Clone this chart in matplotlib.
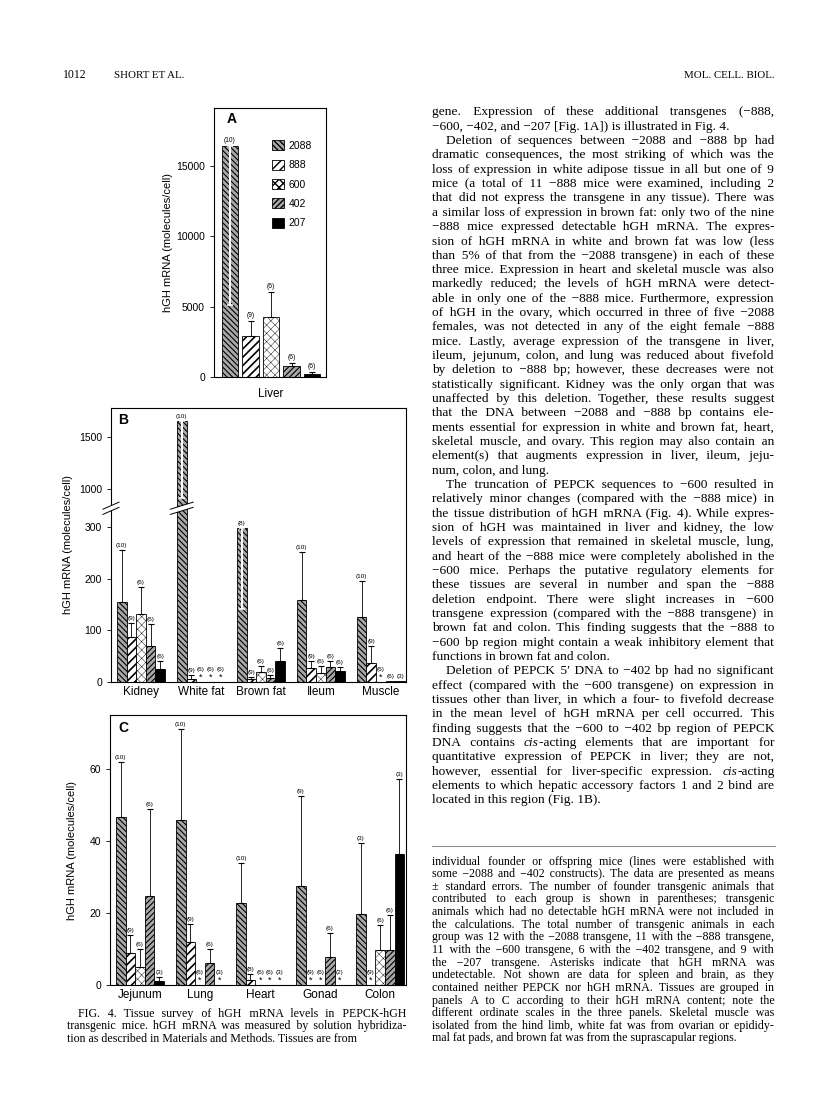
"""
Fig. 4 page - tissue survey of hGH mRNA levels in PEPCK-hGH transgenic mice.
Three bar panels (A liver, B high tissues with broken axis, C low tissues)
plus the surrounding journal text.
"""

import matplotlib
matplotlib.use("Agg")
import matplotlib.pyplot as plt
from matplotlib.patches import Patch, Polygon
import numpy as np

nan = np.nan

# ── Data ──────────────────────────────────────────────────────────────────────

constructs = ["2088", "888", "600", "402", "207"]

# panel A - liver
liver_mean = [16400, 2900, 4250, 780, 210]
liver_err = [11300, 1070, 1780, 210, 140]
liver_n = [10, 9, 6, 6, 6]
liver_down = [0]            # error bar drawn downward (white) inside the bar

# panel B
tissues_b = ["Kidney", "White fat", "Brown fat", "Ileum", "Muscle"]
b_mean = [
    [155, 87, 131, 70, 25],
    [1657, 6, nan, nan, nan],
    [298, 6, 19, 8, 41],
    [159, 27, 17, 29, 21],
    [126, 37, nan, 2, 2],
]
b_err = [
    [100, 27, 53, 42, 16],
    [740, 7, 0, 0, 0],
    [157, 4, 12, 5, 25],
    [92, 14, 14, 12, 8],
    [69, 33, 0, 0, 0],
]
b_n = [
    [10, 9, 6, 6, 6],
    [10, 9, 6, 6, 6],
    [8, 9, 6, 6, 6],
    [10, 9, 6, 6, 6],
    [10, 9, 6, 6, 3],
]
b_down = [(1, 0), (2, 0)]
b_ticks = [0, 100, 200, 300, 1000, 1500]

# panel C
tissues_c = ["Jejunum", "Lung", "Heart", "Gonad", "Colon"]
c_mean = [
    [46.7, 8.9, 5.0, 24.7, 1.0],
    [45.9, 12.0, nan, 6.0, nan],
    [22.7, 1.5, nan, nan, nan],
    [27.6, nan, nan, 7.8, nan],
    [19.7, nan, 9.7, 9.7, 36.4],
]
c_err = [
    [15.3, 5.1, 5.0, 24.3, 1.2],
    [25.1, 5.0, 0, 4.0, 0],
    [11.3, 1.5, 0, 0, 0],
    [25.0, 0, 0, 6.7, 0],
    [19.7, 0, 6.9, 9.8, 20.8],
]
c_n = [
    [10, 9, 6, 6, 3],
    [10, 9, 6, 6, 3],
    [10, 8, 6, 6, 3],
    [9, 9, 6, 6, 2],
    [3, 9, 6, 6, 3],
]
c_ticks = [0, 20, 40, 60]

# ── Text of the page ──────────────────────────────────────────────────────────

body = [
    ["gene. Expression of these additional transgenes (−888,",
     "−600, −402, and −207 [Fig. 1A]) is illustrated in Fig. 4."],
    ["Deletion of sequences between −2088 and −888 bp had",
     "dramatic consequences, the most striking of which was the",
     "loss of expression in white adipose tissue in all but one of 9",
     "mice (a total of 11 −888 mice were examined, including 2",
     "that did not express the transgene in any tissue). There was",
     "a similar loss of expression in brown fat: only two of the nine",
     "−888 mice expressed detectable hGH mRNA. The expres-",
     "sion of hGH mRNA in white and brown fat was low (less",
     "than 5% of that from the −2088 transgene) in each of these",
     "three mice. Expression in heart and skeletal muscle was also",
     "markedly reduced; the levels of hGH mRNA were detect-",
     "able in only one of the −888 mice. Furthermore, expression",
     "of hGH in the ovary, which occurred in three of five −2088",
     "females, was not detected in any of the eight female −888",
     "mice. Lastly, average expression of the transgene in liver,",
     "ileum, jejunum, colon, and lung was reduced about fivefold",
     "by deletion to −888 bp; however, these decreases were not",
     "statistically significant. Kidney was the only organ that was",
     "unaffected by this deletion. Together, these results suggest",
     "that the DNA between −2088 and −888 bp contains ele-",
     "ments essential for expression in white and brown fat, heart,",
     "skeletal muscle, and ovary. This region may also contain an",
     "element(s) that augments expression in liver, ileum, jeju-",
     "num, colon, and lung."],
    ["The truncation of PEPCK sequences to −600 resulted in",
     "relatively minor changes (compared with the −888 mice) in",
     "the tissue distribution of hGH mRNA (Fig. 4). While expres-",
     "sion of hGH was maintained in liver and kidney, the low",
     "levels of expression that remained in skeletal muscle, lung,",
     "and heart of the −888 mice were completely abolished in the",
     "−600 mice. Perhaps the putative regulatory elements for",
     "these tissues are several in number and span the −888",
     "deletion endpoint. There were slight increases in −600",
     "transgene expression (compared with the −888 transgene) in",
     "brown fat and colon. This finding suggests that the −888 to",
     "−600 bp region might contain a weak inhibitory element that",
     "functions in brown fat and colon."],
    ["Deletion of PEPCK 5′ DNA to −402 bp had no significant",
     "effect (compared with the −600 transgene) on expression in",
     "tissues other than liver, in which a four- to fivefold decrease",
     "in the mean level of hGH mRNA per cell occurred. This",
     "finding suggests that the −600 to −402 bp region of PEPCK",
     "DNA contains ~cis~-acting elements that are important for",
     "quantitative expression of PEPCK in liver; they are not,",
     "however, essential for liver-specific expression. ~cis~-acting",
     "elements to which hepatic accessory factors 1 and 2 bind are",
     "located in this region (Fig. 1B)."],
]

caption_left = [
    "FIG. 4. Tissue survey of hGH mRNA levels in PEPCK-hGH",
    "transgenic mice. hGH mRNA was measured by solution hybridiza-",
    "tion as described in Materials and Methods. Tissues are from",
]

caption_right = [
    "individual founder or offspring mice (lines were established with",
    "some −2088 and −402 constructs). The data are presented as means",
    "± standard errors. The number of founder transgenic animals that",
    "contributed to each group is shown in parentheses; transgenic",
    "animals which had no detectable hGH mRNA were not included in",
    "the calculations. The total number of transgenic animals in each",
    "group was 12 with the −2088 transgene, 11 with the −888 transgene,",
    "11 with the −600 transgene, 6 with the −402 transgene, and 9 with",
    "the −207 transgene. Asterisks indicate that hGH mRNA was",
    "undetectable. Not shown are data for spleen and brain, as they",
    "contained neither PEPCK nor hGH mRNA. Tissues are grouped in",
    "panels A to C according to their hGH mRNA content; note the",
    "different ordinate scales in the three panels. Skeletal muscle was",
    "isolated from the hind limb, white fat was from ovarian or epididy-",
    "mal fat pads, and brown fat was from the suprascapular regions.",
]

# ── Style ─────────────────────────────────────────────────────────────────────

SANS = ["Liberation Sans", "DejaVu Sans"]
SERIF = ["Liberation Serif", "DejaVu Serif"]

plt.rcParams.update({
    "font.family": SANS,
    "axes.linewidth": 0.8,
    "xtick.major.size": 0,
    "ytick.major.size": 3,
    "ytick.major.width": 0.6,
    "ytick.labelsize": 7.5,
    "xtick.labelsize": 8.5,
    "axes.labelsize": 8,
})

# hatch, face colour and hatch line width per construct
STYLES = [
    dict(hatch="\\" * 6, fc="#a8a8a8", hlw=0.8),
    dict(hatch="////", fc="white", hlw=1.2),
    dict(hatch="xxxx", fc="white", hlw=0.3),
    dict(hatch="/" * 6, fc="#a8a8a8", hlw=0.8),
    dict(hatch=None, fc="black", hlw=0.5),
]

W, H = 816, 1111
fig = plt.figure(figsize=(W / 100, H / 100), dpi=100)
fig.patch.set_facecolor("white")
renderer = fig.canvas.get_renderer()


def box(l, t, r, b):
    return [l / W, 1 - b / H, (r - l) / W, (b - t) / H]


def styled_bar(ax, x, h, w, k):
    st = STYLES[k]
    with plt.rc_context({"hatch.linewidth": st["hlw"]}):
        bars = ax.bar(x, h, w, color=st["fc"], edgecolor="black",
                      linewidth=0.6, hatch=st["hatch"], zorder=2)
    for p in bars:
        if hasattr(p, "set_hatch_linewidth"):
            p.set_hatch_linewidth(st["hlw"])
    return bars


def draw_group(ax, xc, means, errs, ns, downs, step, bw=None, nsize=4.6):
    bw = step if bw is None else bw
    offs = (np.arange(len(means)) - (len(means) - 1) / 2) * step
    for k, (m, e, n) in enumerate(zip(means, errs, ns)):
        x = xc + offs[k]
        lab = f"({n})"
        if np.isnan(m):
            ax.annotate("*", (x, 0), xytext=(0, 0.5), textcoords="offset points",
                        ha="center", va="bottom", fontsize=6.5)
            ax.annotate(lab, (x, 0), xytext=(0, 7), textcoords="offset points",
                        ha="center", va="bottom", fontsize=nsize)
            continue
        styled_bar(ax, x, m, bw, k)
        if k in downs:
            ax.errorbar(x, m, yerr=[[e], [0]], fmt="none", ecolor="white",
                        elinewidth=1.4, capsize=2.4, capthick=1.1, zorder=3)
            top = m
        else:
            if e > 0:
                ax.errorbar(x, m, yerr=[[0], [e]], fmt="none", ecolor="black",
                            elinewidth=0.6, capsize=2.2, capthick=0.8, zorder=3)
            top = m + e
        ax.annotate(lab, (x, top), xytext=(0, 1.5), textcoords="offset points",
                    ha="center", va="bottom", fontsize=nsize)


def panel_letter(ax, s, x, y):
    ax.text(x, y, s, transform=ax.transAxes, fontsize=10, fontweight="bold",
            ha="left", va="center")


# ── Panel A ───────────────────────────────────────────────────────────────────

axA = fig.add_axes(box(214, 108, 326, 377))
draw_group(axA, 2, np.array(liver_mean, float), liver_err, liver_n,
           liver_down, 1.0, bw=0.8, nsize=4.8)
axA.set_xlim(-0.78, 4.68)
axA.set_ylim(0, 19080)
axA.set_yticks([0, 5000, 10000, 15000])
axA.set_xticks([2])
axA.set_xticklabels(["Liver"])
axA.tick_params(axis="x", pad=8)
axA.set_ylabel("hGH mRNA (molecules/cell)")
axA.yaxis.set_label_coords(-0.37, 0.5)
panel_letter(axA, "A", 0.11, 0.96)

handles = []
for k, c in enumerate(constructs):
    st = STYLES[k]
    with plt.rc_context({"hatch.linewidth": st["hlw"]}):
        hp = Patch(facecolor=st["fc"], edgecolor="black", hatch=st["hatch"],
                   linewidth=0.6, label=c)
    handles.append(hp)
axA.legend(handles=handles, loc="upper left", bbox_to_anchor=(0.52, 0.88),
           frameon=False, fontsize=7.5, handlelength=1.1, handleheight=1.1,
           labelspacing=0.85, handletextpad=0.45, borderpad=0, borderaxespad=0)

# ── Panel B (broken axis via FuncScale) ───────────────────────────────────────

BRK_LO, BRK_HI, UP_SLOPE = 336, 820, 0.202


def fwd(y):
    y = np.asarray(y, float)
    return np.interp(y, [-1e4, BRK_LO, BRK_HI, 1e5],
                     [-1e4, BRK_LO, BRK_LO + 0.01, BRK_LO + (1e5 - BRK_HI) * UP_SLOPE])


def inv(v):
    v = np.asarray(v, float)
    return np.interp(v, [-1e4, BRK_LO, BRK_LO + 0.01, BRK_LO + (1e5 - BRK_HI) * UP_SLOPE],
                     [-1e4, BRK_LO, BRK_HI, 1e5])


axB = fig.add_axes(box(111, 408, 406, 682))
axB.set_yscale("function", functions=(fwd, inv))
SLOT = 0.16
b_m = np.array(b_mean, float)
for i, t in enumerate(tissues_b):
    downs = [k for (ti, k) in b_down if ti == i]
    draw_group(axB, i, b_m[i], b_err[i], b_n[i], downs, SLOT)
YMAX_B = 1780
axB.set_ylim(0, YMAX_B)
axB.set_xlim(-0.5, 4.42)
axB.set_yticks(b_ticks)
axB.set_xticks(range(len(tissues_b)))
axB.set_xticklabels(tissues_b)
axB.tick_params(axis="x", pad=3)
axB.set_ylabel("hGH mRNA (molecules/cell)")
axB.yaxis.set_label_coords(-0.13, 0.5)
panel_letter(axB, "B", 0.025, 0.955)

# break marks: on the spine and across the white-fat 2088 bar
fb = float(fwd(BRK_LO) / fwd(YMAX_B))
ph = 1 / 274.0                       # one pixel in axes-y units


def break_mark(trans, xc, dx):
    e, g = 3.5 * ph, 2.6 * ph
    poly = Polygon([(xc - dx, fb - e - g), (xc + dx, fb + e - g),
                    (xc + dx, fb + e + g), (xc - dx, fb - e + g)],
                   closed=True, facecolor="white", edgecolor="none",
                   transform=trans, clip_on=False, zorder=6)
    axB.add_patch(poly)
    for s in (-g, g):
        axB.plot([xc - dx, xc + dx], [fb - e + s, fb + e + s], color="black",
                 lw=0.7, transform=trans, clip_on=False, zorder=7)


break_mark(axB.transAxes, 0.0, 8 / 295)
break_mark(axB.get_xaxis_transform(), 1 - 2 * SLOT, 0.19)

# ── Panel C ───────────────────────────────────────────────────────────────────

axC = fig.add_axes(box(110, 715, 406, 985))
c_m = np.array(c_mean, float)
for i, t in enumerate(tissues_c):
    draw_group(axC, i, c_m[i], c_err[i], c_n[i], [], SLOT)
axC.set_ylim(0, 75)
axC.set_xlim(-0.5, 4.43)
axC.set_yticks(c_ticks)
axC.set_xticks(range(len(tissues_c)))
axC.set_xticklabels(tissues_c)
axC.tick_params(axis="x", pad=3)
axC.set_ylabel("hGH mRNA (molecules/cell)")
axC.yaxis.set_label_coords(-0.11, 0.5)
panel_letter(axC, "C", 0.027, 0.95)

# ── Page text (justified with hair spaces, one text per line segment) ────────

HAIR, THIN = "\u200a", "\u2009"
_wcache = {}


def width(s, size, italic=False):
    # trailing/leading spaces are kept by measuring between two bars
    key = (s, size, italic)
    if key not in _wcache:
        t = fig.text(0, 0, "|" + s + "|", fontsize=size, family=SERIF,
                     style="italic" if italic else "normal")
        t0 = fig.text(0, 0, "||", fontsize=size, family=SERIF,
                      style="italic" if italic else "normal")
        _wcache[key] = (t.get_window_extent(renderer).width
                        - t0.get_window_extent(renderer).width)
        t.remove()
        t0.remove()
    return _wcache[key]


def line_width(s, size):
    return sum(width(seg, size, j % 2 == 1)
               for j, seg in enumerate(s.split("~")) if seg)


def join(words, seps):
    return words[0] + "".join(sp + w for sp, w in zip(seps, words[1:]))


def text_line(s, x0, x1, y, size, justify=True):
    words = s.split()
    gaps = len(words) - 1
    seps = [" "] * gaps
    if justify and gaps > 0:
        hw = (width(HAIR * 40, size)) / 40
        extra = x1 - x0 - line_width(join(words, seps), size)
        if extra < 0:
            seps = [THIN] * gaps
            extra = x1 - x0 - line_width(join(words, seps), size)
        n = max(int(round(extra / hw)), 0)
        base, rem = divmod(n, gaps)
        picks = set(np.linspace(0, gaps - 1, rem).round().astype(int)) if rem else set()
        seps = [sp + HAIR * (base + (1 if i in picks else 0))
                for i, sp in enumerate(seps)]
    full = join(words, seps)
    x = x0
    for j, seg in enumerate(full.split("~")):
        if not seg:
            continue
        it = j % 2 == 1
        fig.text(x / W, 1 - y / H, seg, fontsize=size, family=SERIF,
                 style="italic" if it else "normal", ha="left", va="baseline")
        x += width(seg, size, it)


# running head
fig.text(63 / W, 1 - 78 / H, "1012", family=SERIF, fontsize=8.5, va="baseline")
fig.text(114 / W, 1 - 78 / H, "SHORT ET AL.", family=SERIF, fontsize=7.8, va="baseline")
fig.text(775 / W, 1 - 78 / H, "MOL. CELL. BIOL.", family=SERIF, fontsize=7.8,
         va="baseline", ha="right")

# right column body
COL_L, COL_R, INDENT = 432, 774, 14
y = 115.5
for pi, para in enumerate(body):
    for li, line in enumerate(para):
        x0 = COL_L + (INDENT if (li == 0 and pi > 0) else 0)
        text_line(line, x0, COL_R, y, 9.6, justify=(li < len(para) - 1))
        y += 14.33

fig.add_artist(plt.Line2D([COL_L / W, 775 / W], [1 - 846 / H] * 2,
                          color="#888888", lw=0.7))

y = 864.5
for li, line in enumerate(caption_right):
    text_line(line, COL_L, COL_R, y, 8.6, justify=(li < len(caption_right) - 1))
    y += 12.64

# left caption
y = 1016.5
for li, line in enumerate(caption_left):
    x0 = 67 + (11 if li == 0 else 0)
    text_line(line, x0, 406, y, 8.6, justify=(li < len(caption_left) - 1))
    y += 12.9

fig.savefig("out.png", dpi=100, facecolor="white")
